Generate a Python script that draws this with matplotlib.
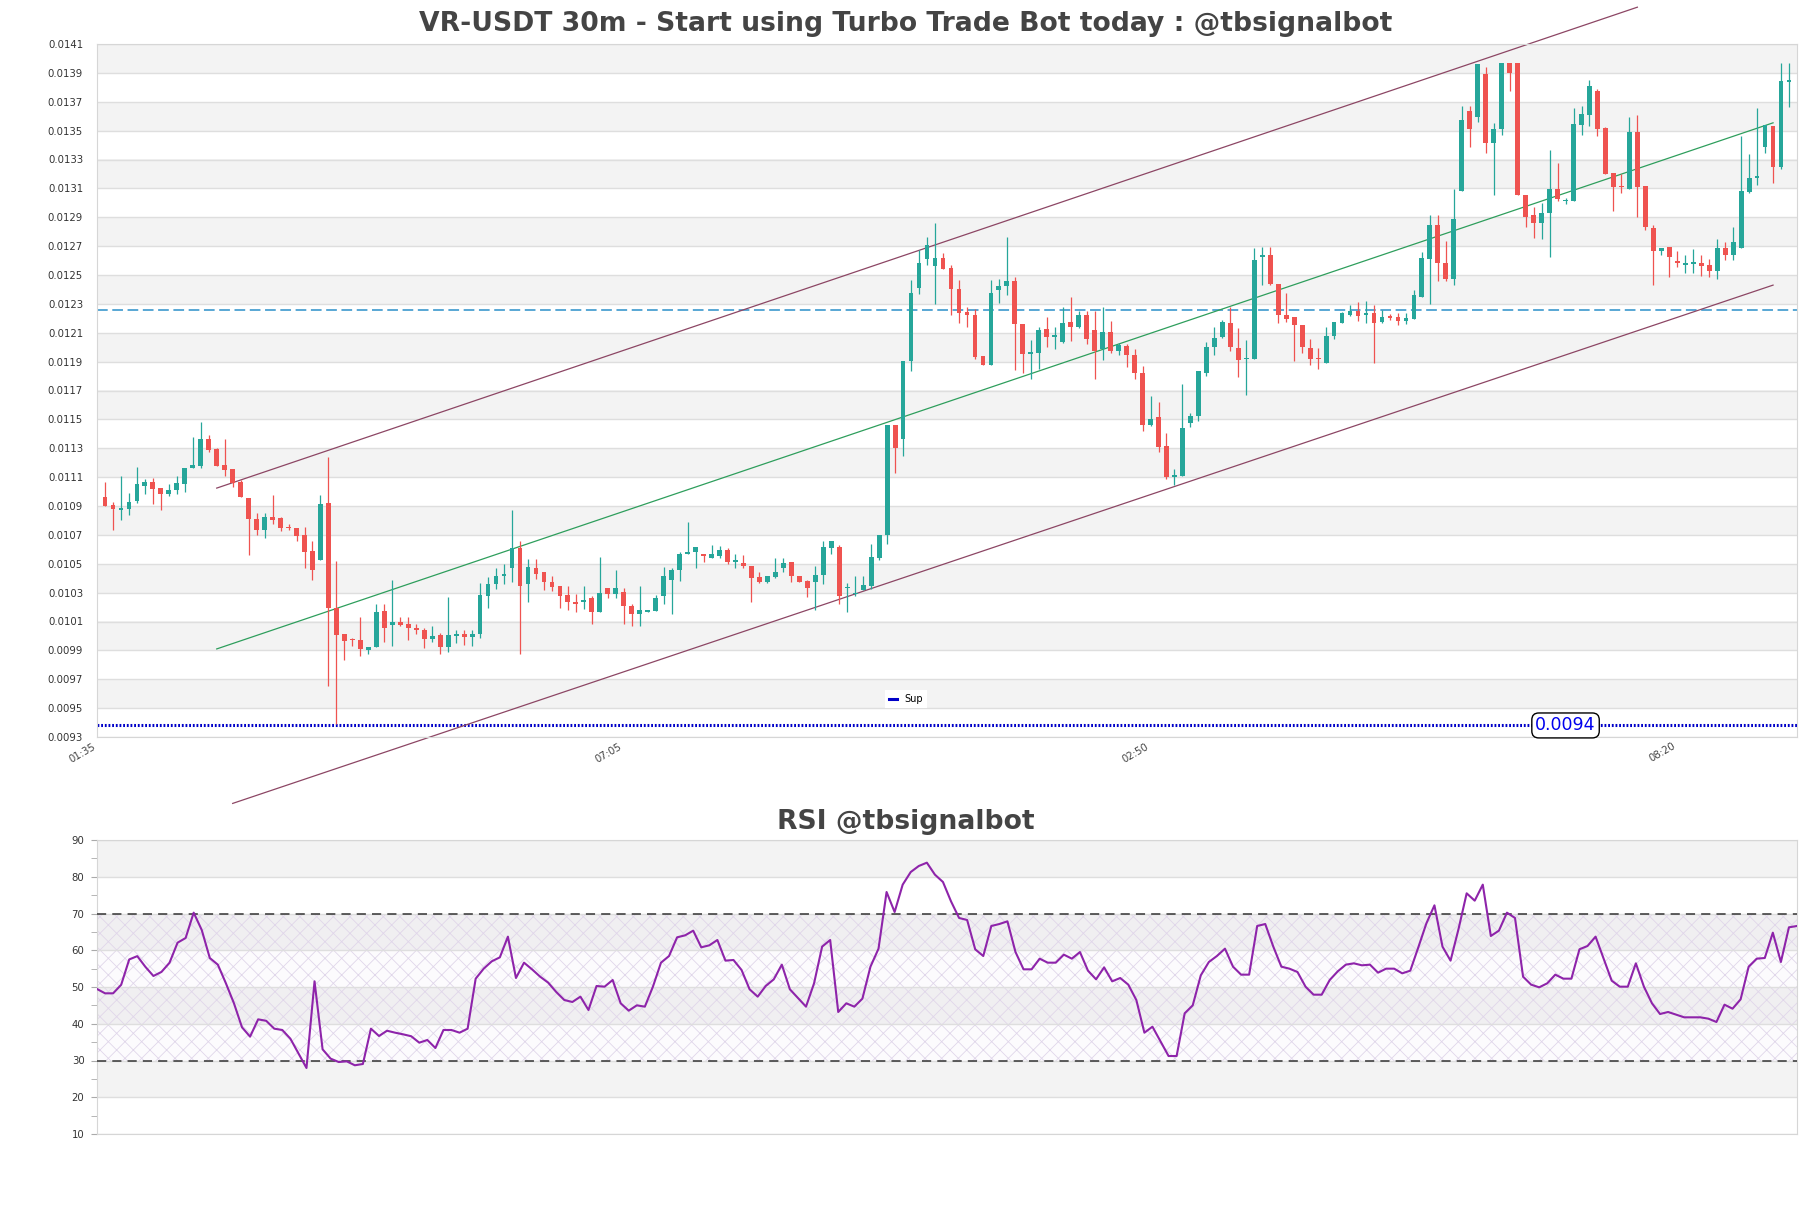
import matplotlib
matplotlib.use("Agg")
import matplotlib.pyplot as plt
from matplotlib.lines import Line2D
import numpy as np

# OHLC of each candle, in units of 1e-4 (109.61 -> 0.010961)
opens = [109.61, 109.08, 108.71, 108.81, 109.38, 110.4, 110.68, 110.26, 109.85, 110.08,
         110.54, 111.62, 111.78, 113.65, 112.96, 111.83, 111.55, 110.68, 109.55, 108.11,
         107.31, 108.21, 108.14, 107.58, 107.49, 107.0, 105.9, 105.28, 109.2, 101.91,
         100.11, 99.79, 99.74, 99.0, 99.23, 101.72, 100.76, 100.99, 100.85, 100.53,
         100.43, 99.79, 100.06, 99.23, 100.02, 100.16, 99.93, 100.11, 102.79, 103.57,
         104.12, 104.68, 106.06, 103.57, 104.72, 104.45, 103.71, 103.48, 102.83, 102.37,
         102.32, 102.6, 101.63, 103.34, 102.92, 103.02, 102.09, 101.49, 101.68, 101.72,
         102.74, 103.89, 104.54, 105.69, 105.79, 105.69, 105.42, 105.55, 105.97, 105.14,
         105.05, 104.86, 104.08, 103.71, 104.08, 104.72, 105.14, 104.17, 103.8, 103.71,
         104.22, 106.06, 106.15, 103.29, 102.88, 103.16, 103.48, 105.42, 106.98, 114.6,
         113.63, 119.03, 124.1, 126.13, 125.62, 126.18, 125.48, 124.01, 122.44, 122.21,
         119.39, 118.79, 123.96, 124.24, 124.56, 121.61, 119.53, 119.62, 121.29, 120.69,
         120.36, 121.75, 121.42, 122.21, 121.19, 119.86, 121.06, 119.72, 120.09, 119.44,
         118.2, 114.64, 115.15, 113.17, 111.04, 111.09, 114.73, 115.2, 118.2, 119.99,
         120.69, 121.66, 119.95, 119.16, 119.21, 126.22, 126.36, 124.38, 122.21, 122.07,
         121.52, 119.95, 119.21, 118.89, 120.78, 121.7, 122.25, 122.49, 122.21, 122.35,
         121.75, 122.12, 122.07, 121.79, 121.93, 123.5, 126.13, 128.44, 125.81, 124.75,
         130.84, 136.37, 135.96, 138.91, 134.16, 135.08, 139.65, 139.65, 130.56, 129.13,
         128.58, 129.27, 130.93, 130.1, 130.14, 135.41, 136.1, 137.76, 135.17, 132.04,
         131.16, 130.93, 134.9, 131.16, 128.25, 126.64, 126.91, 126.0, 125.72, 125.76,
         125.81, 125.67, 125.3, 126.87, 126.36, 126.87, 130.75, 131.71, 133.88, 135.31,
         132.45, 138.4]
highs = [110.63, 109.27, 111.09, 109.89, 111.71, 110.86, 110.91, 110.26, 110.54, 111.09,
         111.64, 113.81, 114.83, 113.95, 113.05, 113.63, 111.55, 110.81, 109.55, 108.51,
         108.51, 109.75, 108.23, 107.72, 107.49, 107.54, 106.57, 109.75, 112.38, 105.19,
         100.11, 99.88, 101.31, 99.23, 102.23, 102.23, 103.89, 101.31, 101.31, 100.85,
         100.57, 100.71, 100.2, 102.69, 100.39, 100.39, 100.39, 103.66, 104.08, 104.68,
         105.0, 108.69, 106.61, 105.32, 105.32, 104.45, 104.17, 103.48, 103.48, 102.92,
         103.48, 102.74, 105.46, 103.34, 104.58, 103.34, 102.23, 103.43, 101.82, 102.83,
         104.77, 104.72, 105.83, 107.86, 106.15, 105.69, 106.29, 106.24, 106.11, 105.69,
         105.6, 104.86, 104.45, 104.12, 105.42, 105.42, 105.14, 104.17, 103.89, 104.82,
         106.61, 106.57, 106.29, 103.66, 104.12, 104.12, 106.38, 106.98, 114.6, 114.6,
         119.03, 124.65, 126.73, 127.61, 128.58, 126.55, 125.72, 124.65, 122.76, 122.67,
         119.39, 124.65, 124.75, 127.61, 124.88, 121.61, 120.5, 121.42, 122.07, 121.38,
         122.81, 123.5, 122.53, 122.53, 122.48, 122.76, 121.84, 120.27, 120.23, 119.9,
         118.7, 116.63, 116.17, 114.04, 111.55, 117.46, 115.43, 118.34, 120.36, 121.42,
         121.88, 122.81, 121.33, 120.5, 126.87, 126.91, 126.91, 124.38, 123.73, 122.07,
         121.52, 120.55, 119.95, 121.42, 121.75, 122.44, 122.9, 123.13, 123.18, 122.9,
         122.58, 122.3, 122.35, 122.35, 123.96, 126.59, 129.13, 129.13, 127.33, 130.93,
         136.7, 136.7, 139.6, 139.42, 135.5, 139.65, 139.65, 139.65, 130.56, 129.68,
         129.96, 133.65, 132.73, 130.33, 136.6, 136.7, 138.54, 137.9, 135.27, 132.04,
         131.99, 135.91, 136.05, 131.16, 128.44, 126.87, 126.91, 126.64, 126.36, 126.78,
         126.36, 126.13, 127.47, 127.28, 128.35, 134.62, 133.37, 136.6, 135.36, 135.31,
         139.69, 139.69]
lows = [109.0, 107.31, 108.0, 108.35, 109.24, 109.85, 109.15, 108.74, 109.71, 109.85,
        109.94, 111.62, 111.62, 112.71, 111.78, 111.09, 110.31, 109.61, 105.58, 106.98,
        106.78, 107.77, 107.26, 107.31, 106.57, 104.68, 103.85, 105.28, 96.51, 93.93,
        98.36, 99.28, 98.63, 98.73, 99.23, 99.56, 99.28, 100.66, 99.7, 100.11,
        99.19, 99.56, 98.73, 98.91, 99.51, 99.37, 99.28, 99.83, 101.91, 103.25,
        103.57, 103.71, 98.73, 102.32, 103.94, 103.15, 103.11, 101.91, 101.82, 101.68,
        101.86, 100.85, 101.63, 102.65, 102.65, 100.8, 100.66, 100.66, 101.68, 101.72,
        102.18, 101.54, 103.8, 105.65, 104.68, 105.14, 105.37, 105.42, 105.0, 104.68,
        104.68, 102.32, 103.66, 103.66, 103.98, 104.45, 103.71, 103.71, 102.69, 101.77,
        103.57, 105.65, 102.18, 101.68, 102.74, 103.16, 103.25, 105.28, 106.34, 111.32,
        112.43, 118.38, 123.68, 125.72, 123.0, 125.44, 122.26, 121.7, 121.38, 119.21,
        118.75, 118.79, 123.08, 123.64, 118.42, 118.24, 117.78, 118.47, 120.04, 119.9,
        120.32, 120.41, 121.33, 120.23, 117.78, 119.12, 119.62, 119.49, 118.66, 117.78,
        114.18, 114.55, 112.71, 110.86, 110.44, 111.09, 114.46, 114.92, 118.01, 119.49,
        120.64, 119.76, 117.96, 116.67, 119.21, 124.29, 124.29, 121.7, 121.75, 119.03,
        119.58, 118.75, 118.52, 118.89, 120.59, 121.66, 122.16, 121.79, 121.66, 118.93,
        121.7, 121.88, 121.52, 121.61, 121.93, 123.5, 123.0, 124.56, 124.61, 124.29,
        130.84, 133.88, 135.63, 133.42, 130.56, 134.71, 137.71, 130.56, 128.35, 127.56,
        127.47, 126.27, 130.14, 129.91, 130.14, 134.71, 135.31, 134.62, 131.99, 129.45,
        130.7, 130.93, 129.04, 128.11, 124.33, 126.36, 124.89, 125.53, 125.16, 125.16,
        124.93, 124.89, 124.75, 126.04, 126.04, 126.87, 130.65, 131.25, 133.47, 131.39,
        132.36, 136.65]
closes = [109.01, 108.76, 108.81, 109.27, 110.54, 110.68, 110.21, 109.85, 110.12, 110.58,
          111.64, 111.83, 113.65, 112.89, 111.8, 111.46, 110.58, 109.61, 108.09, 107.31,
          108.21, 108.05, 107.49, 107.45, 106.94, 105.83, 104.54, 109.13, 101.91, 100.09,
          99.65, 99.7, 99.1, 99.23, 101.68, 100.57, 100.99, 100.76, 100.53, 100.39,
          99.79, 100.02, 99.23, 100.06, 100.11, 99.93, 100.16, 102.83, 103.62, 104.12,
          104.31, 106.06, 103.48, 104.77, 104.31, 103.75, 103.39, 102.79, 102.37, 102.18,
          102.51, 101.63, 102.97, 102.92, 103.34, 102.05, 101.49, 101.82, 101.77, 102.6,
          104.12, 104.58, 105.69, 105.83, 106.15, 105.51, 105.69, 105.97, 105.14, 105.23,
          104.82, 104.03, 103.71, 104.12, 104.4, 105.05, 104.12, 103.75, 103.34, 104.22,
          106.15, 106.57, 102.78, 103.39, 102.97, 103.52, 105.46, 106.98, 114.6, 113.03,
          119.03, 123.73, 125.81, 127.05, 126.18, 125.44, 124.01, 122.35, 122.21, 119.35,
          118.79, 123.73, 124.24, 124.56, 121.61, 119.53, 119.67, 121.19, 120.73, 120.78,
          121.66, 121.38, 122.21, 120.59, 119.76, 121.06, 119.76, 120.13, 119.44, 118.2,
          114.64, 115.06, 113.12, 111.04, 111.18, 114.41, 115.24, 118.34, 120.04, 120.64,
          121.75, 119.99, 119.12, 119.25, 126.04, 126.36, 124.38, 122.21, 121.93, 121.52,
          119.99, 119.21, 119.16, 120.78, 121.75, 122.35, 122.53, 122.16, 122.35, 121.7,
          122.12, 122.02, 121.79, 122.02, 123.59, 126.18, 128.44, 125.81, 124.75, 128.85,
          135.73, 135.08, 139.6, 134.16, 135.08, 139.65, 138.96, 130.56, 129.04, 128.58,
          129.27, 130.93, 130.24, 130.19, 135.45, 136.14, 138.08, 135.13, 131.99, 131.07,
          131.07, 134.9, 131.11, 128.35, 126.64, 126.87, 126.27, 125.81, 125.81, 125.86,
          125.62, 125.3, 126.87, 126.36, 127.28, 130.79, 131.71, 131.8, 135.36, 132.45,
          138.45, 138.54]

rsi = [49.46, 48.28, 48.28, 50.6, 57.5, 58.4, 55.5, 53.0, 54.1, 56.6,
       62.06, 63.33, 70.23, 65.51, 57.89, 56.07, 51.0, 45.55, 39.02, 36.49,
       41.2, 40.8, 38.66, 38.3, 35.94, 31.95, 27.96, 51.54, 33.04, 30.5,
       29.59, 29.77, 28.7, 29.05, 38.66, 36.67, 38.1, 37.57, 37.12, 36.6,
       34.85, 35.58, 33.4, 38.3, 38.3, 37.57, 38.66, 52.27, 55.0, 56.99,
       58.07, 63.7, 52.45, 56.62, 54.8, 52.81, 51.18, 48.64, 46.46, 45.92,
       47.37, 43.74, 50.27, 50.09, 51.9, 45.56, 43.56, 45.01, 44.65, 50.09,
       56.62, 58.43, 63.52, 64.06, 65.33, 60.8, 61.34, 62.79, 57.17, 57.35,
       54.63, 49.37, 47.37, 50.27, 52.09, 56.08, 49.37, 47.01, 44.65, 51.0,
       60.98, 62.79, 43.2, 45.56, 44.65, 46.83, 55.53, 60.43, 75.85, 70.41,
       77.85, 81.29, 82.93, 83.83, 80.57, 78.57, 73.3, 68.78, 68.23, 60.26,
       58.43, 66.6, 67.14, 67.87, 59.52, 54.81, 54.81, 57.71, 56.62, 56.62,
       58.8, 57.71, 59.52, 54.44, 52.09, 55.35, 51.54, 52.45, 50.64, 46.46,
       37.57, 39.2, 35.21, 31.22, 31.22, 42.84, 45.01, 53.17, 56.8, 58.43,
       60.43, 55.53, 53.36, 53.36, 66.6, 67.14, 60.98, 55.53, 54.99, 54.08,
       50.09, 47.91, 47.91, 51.9, 54.26, 56.08, 56.44, 55.9, 56.08, 53.9,
       54.99, 54.99, 53.72, 54.44, 60.8, 67.32, 72.22, 60.98, 57.17, 65.87,
       75.49, 73.49, 77.85, 63.88, 65.33, 70.23, 68.78, 52.81, 50.64, 49.91,
       51.0, 53.36, 52.27, 52.27, 60.26, 61.16, 63.7, 57.71, 51.72, 50.09,
       50.09, 56.44, 50.09, 45.56, 42.65, 43.2, 42.47, 41.75, 41.75, 41.75,
       41.38, 40.48, 45.19, 44.1, 46.64, 55.53, 57.71, 57.89, 64.78, 56.8,
       66.24, 66.6]

tick_pos = [-1, 65, 131, 197]
tick_labels = ["01:35", "07:05", "02:50", "08:20"]

sup_level = 0.00938
resist_level = 0.01226
# channel lines: (candle index, price) at both ends
upper_x, upper_y = [14, 192], [0.011024, 0.014355]
mid_x, mid_y = [14, 209], [0.00991, 0.013554]
lower_x, lower_y = [16, 209], [0.00884, 0.01243]

o = np.array(opens) * 1e-4
h = np.array(highs) * 1e-4
l = np.array(lows) * 1e-4
c = np.array(closes) * 1e-4
n = len(o)
idx = np.arange(n)

up_col = "#26a69a"
dn_col = "#ef5350"
cols = np.where(c >= o, up_col, dn_col)

plt.rcParams["hatch.linewidth"] = 0.6

fig = plt.figure(figsize=(18.11, 12.08), dpi=100)
W, H = 1811, 1208
ax = fig.add_axes([97 / W, 1 - 737 / H, 1700 / W, 693 / H])
ax2 = fig.add_axes([97 / W, 1 - 1134 / H, 1700 / W, 294 / H])

# price panel background bands
yt = np.round(np.arange(93, 142, 2) * 1e-4, 6)
for j in range(1, len(yt) - 1, 2):
    ax.axhspan(yt[j], yt[j + 1], color="#f3f3f3", zorder=0, lw=0)
ax.set_ylim(0.0093, 0.0141)
ax.set_xlim(-1, n)
ax.set_yticks(yt)
ax.set_yticklabels(["%.4f" % v for v in yt])
ax.grid(axis="y", color="#dedede", lw=1, zorder=0.5)

# candles
ax.vlines(idx, l, h, colors=cols, lw=0.9, zorder=3)
body = np.maximum(np.abs(c - o), 0.000012)
ax.bar(idx, body, bottom=np.minimum(o, c), width=0.6, color=cols, zorder=4, lw=0)

# levels and channel
ax.axhline(resist_level, color="#2b8fc9", lw=1.1, ls=(0, (7, 3)), zorder=2)
ax.axhline(sup_level, color="#0000c8", lw=2.2, ls=(0, (0.6, 0.6)), zorder=2)
ax.plot(upper_x, upper_y, color="#8c4664", lw=0.9, clip_on=False, zorder=2)
ax.plot(mid_x, mid_y, color="#2e9e5c", lw=0.9, clip_on=False, zorder=2)
ax.plot(lower_x, lower_y, color="#8c4664", lw=0.9, clip_on=False, zorder=2)

ax.text(183, sup_level, "%.4f" % sup_level, color="#0000ee", fontsize=12.5,
        ha="center", va="center", zorder=6,
        bbox=dict(boxstyle="round,pad=0.2,rounding_size=0.4", fc="white", ec="black", lw=1))

leg = ax.legend(handles=[Line2D([], [], color="#0000c8", lw=2.2)], labels=["Sup"],
                loc="lower center", bbox_to_anchor=(0.476, 0.035), fontsize=7,
                handlelength=0.8, frameon=True, framealpha=1, edgecolor="white",
                fancybox=False)
leg.get_frame().set_linewidth(0)

ax.set_xticks(tick_pos)
ax.set_xticklabels(tick_labels, rotation=30, ha="right", fontsize=7.3, color="#444444")
ax.tick_params(axis="x", length=0, pad=3)
ax.tick_params(axis="y", length=0, pad=10, labelsize=7.3, labelcolor="#333333")
for s in ax.spines.values():
    s.set_color("#d6d6d6")

# RSI panel
for lo in [20, 40, 60, 80]:
    ax2.axhspan(lo, lo + 10, color="#f3f3f3", zorder=0, lw=0)
ax2.fill_between([0, n - 1], 30, 70, facecolor=(0.55, 0.3, 0.7, 0.02),
                 edgecolor="#e0d6ea", hatch="xx", lw=0, zorder=1)
ax2.plot(idx, rsi, color="#8e24aa", lw=1.5, zorder=4)
ax2.axhline(70, color="#333333", lw=1.1, ls=(0, (6, 4)), zorder=3)
ax2.axhline(30, color="#333333", lw=1.1, ls=(0, (6, 4)), zorder=3)
ax2.set_xlim(0, n - 1)
ax2.set_ylim(10, 90)
ax2.set_yticks(np.arange(10, 91, 10))
ax2.set_yticks(np.arange(15, 90, 10), minor=True)
ax2.grid(axis="y", color="#dedede", lw=1, zorder=0.5)
ax2.set_xticks([])
ax2.tick_params(axis="y", which="both", length=4, color="#aaaaaa", pad=5,
                labelsize=7.3, labelcolor="#333333")
for s in ax2.spines.values():
    s.set_color("#d6d6d6")

fig.text(0.5, 1 - 24 / H, "VR-USDT 30m - Start using Turbo Trade Bot today : @tbsignalbot",
         ha="center", va="center", fontsize=19.2, fontweight="bold", color="#444444")
fig.text(0.5, 1 - 822 / H, "RSI @tbsignalbot", ha="center", va="center",
         fontsize=19.2, fontweight="bold", color="#444444")

fig.savefig("out.png", dpi=100)
